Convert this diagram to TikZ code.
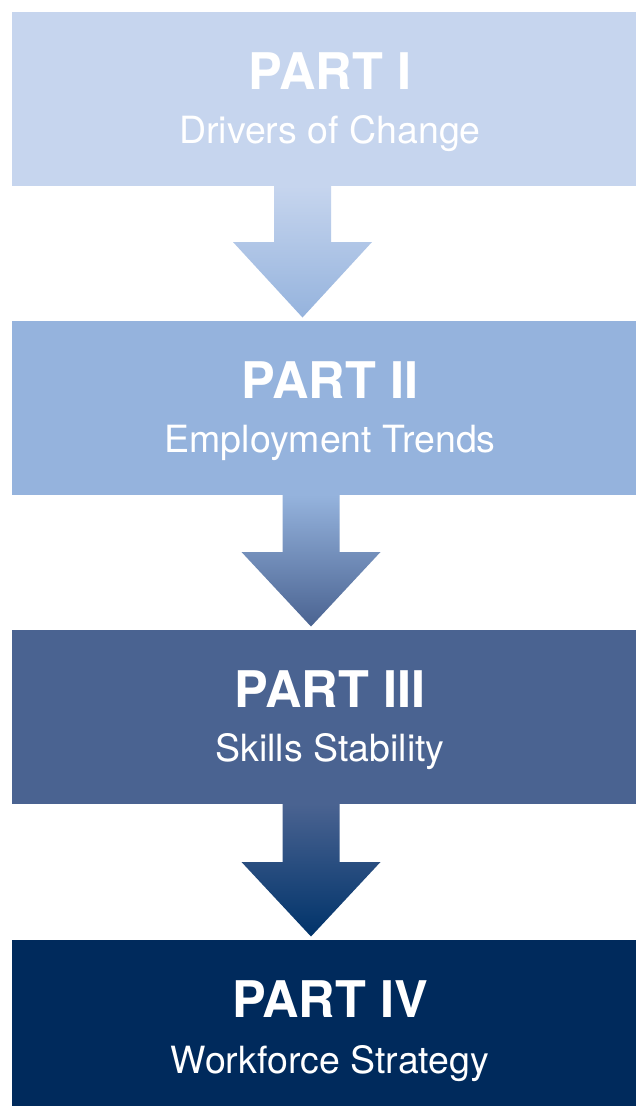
\documentclass[tikz,border=0pt]{standalone}
\usepackage{fontspec}
\setmainfont{TeX Gyre Heros}
\usetikzlibrary{calc}
\definecolor{cA}{HTML}{C6D5EE}
\definecolor{cB}{HTML}{95B3DD}
\definecolor{cC}{HTML}{4A6391}
\definecolor{cD}{HTML}{002A5C}
\definecolor{cE}{HTML}{00336A}
\tikzset{
  partbox/.style={inner sep=0pt, outer sep=0pt, minimum width=636pt, minimum height=174pt},
  parttitle/.style={anchor=base, text=white, inner sep=0pt, font=\bfseries\fontsize{50.5}{52}\selectfont},
  partsub/.style={anchor=base, text=white, inner sep=0pt, font=\fontsize{37.5}{40}\selectfont},
}
\newcommand\flowarrow[6]{% top node, bottom node, x coord, shoulder drop, top colour, bottom colour
  \shade[top color=#5, bottom color=#6]
    ($(#1.south -| #3)+(-28.5,0)$) -- ++(57,0) -- ++(0,#4) -- ++(41,0)
    -- ($(#2.north -| #3)+(0,-3.5)$)
    -- ($(#1.south -| #3)+(-69.5,#4)$) -- ++(41,0) -- cycle;}
\begin{document}
\begin{tikzpicture}[x=1pt,y=-1pt]
\useasboundingbox (0,0) rectangle (636,1106);
\fill[white] (0,0) rectangle (636,1106);
\clip (0,0) rectangle (636,1106);
\coordinate (xa) at (302.5,0);
\coordinate (xb) at (311,0);
\node[partbox, fill=cA] (p1) at (330,99) {};
\node[partbox, fill=cB] (p2) at (330,408) {};
\node[partbox, fill=cC] (p3) at (330,717) {};
\node[partbox, fill=cD] (p4) at (330,1027) {};
\flowarrow{p1}{p2}{xa}{56}{cA}{cB}
\flowarrow{p2}{p3}{xb}{57}{cB}{cC}
\flowarrow{p3}{p4}{xb}{58}{cC}{cE}
\node[parttitle] (t1) at ($(p1.north)+(0,77.5)$) {PART I};
\node[partsub] (s1) at ($(p1.north)+(0,131.5)$) {Drivers of Change};
\node[parttitle] (t2) at ($(p2.north)+(0,77.5)$) {PART II};
\node[partsub] (s2) at ($(p2.north)+(0,131.5)$) {Employment Trends};
\node[parttitle] (t3) at ($(p3.north)+(0,77.5)$) {PART III};
\node[partsub] (s3) at ($(p3.north)+(0,131.5)$) {Skills Stability};
\node[parttitle] (t4) at ($(p4.north)+(0,77.5)$) {PART IV};
\node[partsub] (s4) at ($(p4.north)+(0,133.5)$) {Workforce Strategy};
\end{tikzpicture}
\end{document}
